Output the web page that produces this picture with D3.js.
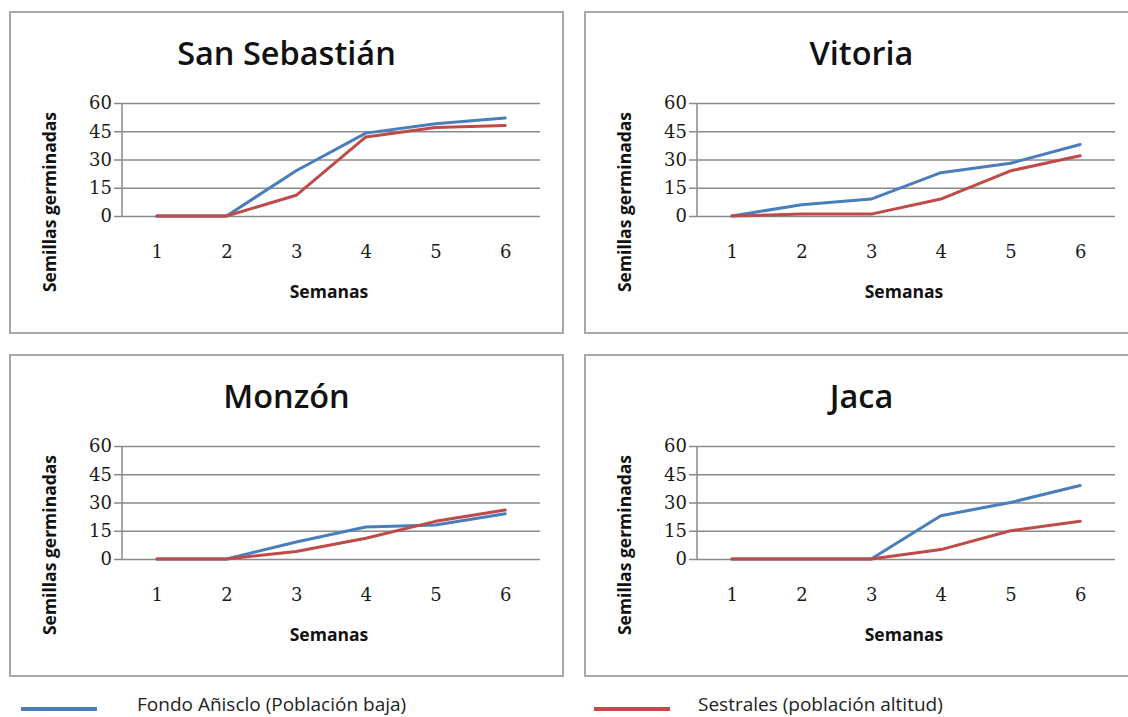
<!DOCTYPE html>
<html>
<head>
<meta charset="utf-8">
<script src="https://cdn.jsdelivr.net/npm/d3@7/dist/d3.min.js"></script>
<style>
  html, body { margin: 0; padding: 0; background: #fff; }
  svg { display: block; }
</style>
</head>
<body>
<svg id="chart" width="1128" height="717"></svg>
<script>
// ---- data ----
const weeks = [1, 2, 3, 4, 5, 6];
const yTickValues = [0, 15, 30, 45, 60];
const panelTitles = ["San Sebastián", "Vitoria", "Monzón", "Jaca"];
const seriesNames = ["Fondo Añisclo (Población baja)", "Sestrales (población altitud)"];
const fondoAnisclo = [
  [0, 0, 24, 44, 49, 52],
  [0, 6, 9, 23, 28, 38],
  [0, 0, 9, 17, 18, 24],
  [0, 0, 0, 23, 30, 39]
];
const sestrales = [
  [0, 0, 11, 42, 47, 48],
  [0, 1, 1, 9, 24, 32],
  [0, 0, 4, 11, 20, 26],
  [0, 0, 0, 5, 15, 20]
];
const xAxisLabel = "Semanas";
const yAxisLabel = "Semillas germinadas";

// ---- styling / layout ----
const colors = ["#4a7ebb", "#be4b48"];
const gridColor = "#8a8a8a";
const boxColor = "#a8a8a8";
const sans = "'Open Sans', 'Liberation Sans', sans-serif";
const serif = "'DejaVu Serif', 'Liberation Serif', serif";

const origins = [[10, 12], [585, 12], [10, 355], [585, 355]];
const boxW = 553, boxH = 321;
const plotL = 112, plotR = 530, plotT = 91, plotB = 204;

const svg = d3.select("#chart");

const x = d3.scalePoint().domain(weeks).range([plotL, plotR]).padding(0.5);
const y = d3.scaleLinear().domain([0, 60]).range([plotB, plotT]);

panelTitles.forEach((title, i) => {
  const g = svg.append("g").attr("transform", `translate(${origins[i][0]},${origins[i][1]})`);

  g.append("rect")
    .attr("x", 0).attr("y", 0).attr("width", boxW).attr("height", boxH)
    .attr("fill", "#fff").attr("stroke", boxColor).attr("stroke-width", 2);

  g.append("text")
    .attr("x", boxW / 2).attr("y", 53)
    .attr("text-anchor", "middle")
    .style("font-family", sans).style("font-size", "32.5px").style("font-weight", 600)
    .attr("fill", "#111")
    .text(title);

  // y axis with gridlines
  const yAxis = d3.axisLeft(y).tickValues(yTickValues).tickSize(-(plotR - plotL)).tickPadding(0).tickFormat(d3.format("d"));
  const ya = g.append("g").attr("transform", `translate(${plotL},0)`).call(yAxis);
  ya.select(".domain").remove();
  ya.selectAll(".tick line")
    .attr("x1", -8)
    .attr("stroke", gridColor).attr("stroke-width", 1.5);
  ya.selectAll(".tick text")
    .attr("x", -10)
    .style("font-family", serif).style("font-size", "18px").style("font-weight", 400)
    .attr("fill", "#1a1a1a");
  // vertical axis line
  g.append("line")
    .attr("x1", plotL).attr("x2", plotL).attr("y1", y(60)).attr("y2", y(0))
    .attr("stroke", gridColor).attr("stroke-width", 1.5);

  // x axis labels
  const xAxis = d3.axisBottom(x).tickSize(0).tickPadding(0);
  const xa = g.append("g").attr("transform", `translate(0,${plotB})`).call(xAxis);
  xa.select(".domain").remove();
  xa.selectAll(".tick text")
    .attr("y", 42).attr("dy", 0)
    .style("font-family", serif).style("font-size", "18px").style("font-weight", 400)
    .attr("fill", "#1a1a1a");

  // axis titles
  g.append("text")
    .attr("x", (plotL + plotR) / 2 - 2).attr("y", 286)
    .attr("text-anchor", "middle")
    .style("font-family", sans).style("font-size", "17.5px").style("font-weight", 700)
    .attr("fill", "#111")
    .text(xAxisLabel);
  g.append("text")
    .attr("transform", "translate(46,190) rotate(-90)")
    .attr("text-anchor", "middle")
    .style("font-family", sans).style("font-size", "17.5px").style("font-weight", 700)
    .attr("fill", "#111")
    .text(yAxisLabel);

  // series lines
  const line = d3.line().x((d, k) => x(weeks[k])).y(d => y(d));
  [fondoAnisclo[i], sestrales[i]].forEach((vals, s) => {
    g.append("path")
      .datum(vals)
      .attr("d", line)
      .attr("fill", "none")
      .attr("stroke", colors[s])
      .attr("stroke-width", 3)
      .attr("stroke-linejoin", "round")
      .attr("stroke-linecap", "round");
  });
});

// legend
const legendPos = [[21, 137], [594, 698]];
const lg = svg.append("g");
seriesNames.forEach((name, s) => {
  lg.append("line")
    .attr("x1", legendPos[s][0]).attr("x2", legendPos[s][0] + 76)
    .attr("y1", 709).attr("y2", 709)
    .attr("stroke", colors[s]).attr("stroke-width", 4);
  lg.append("text")
    .attr("x", legendPos[s][1]).attr("y", 711)
    .style("font-family", sans).style("font-size", "19px")
    .attr("fill", "#222")
    .text(name);
});
</script>
</body>
</html>
